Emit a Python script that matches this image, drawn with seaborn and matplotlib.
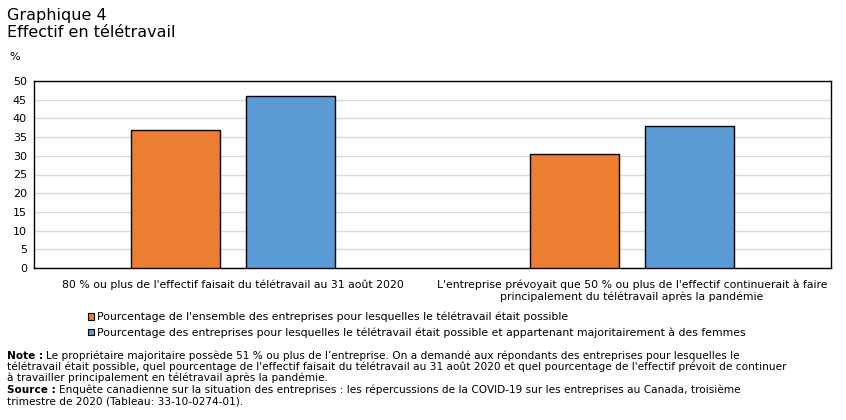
import matplotlib
matplotlib.use("Agg")
import matplotlib.pyplot as plt
import seaborn as sns
import pandas as pd
from matplotlib.patches import Patch

categories = [
    "80 % ou plus de l'effectif faisait du télétravail au 31 août 2020",
    "L'entreprise prévoyait que 50 % ou plus de l'effectif continuerait à faire\nprincipalement du télétravail après la pandémie",
]
series_names = [
    "Pourcentage de l'ensemble des entreprises pour lesquelles le télétravail était possible",
    "Pourcentage des entreprises pour lesquelles le télétravail était possible et appartenant majoritairement à des femmes",
]
values_all = [36.9, 30.4]
values_women = [46.0, 37.9]
y_ticks = [0, 5, 10, 15, 20, 25, 30, 35, 40, 45, 50]
colors = ["#ED7D31", "#5B9BD5"]

df = pd.DataFrame({
    "cat": categories * 2,
    "serie": [series_names[0]] * 2 + [series_names[1]] * 2,
    "val": values_all + values_women,
})

sns.set_theme(style="white")
plt.rcParams["font.family"] = ["DejaVu Sans"]
plt.rcParams["text.color"] = "black"

W, H = 846, 420
fig = plt.figure(figsize=(W / 100, H / 100), dpi=100)
ax = fig.add_axes([34 / W, 1 - 268 / H, (831 - 34) / W, (268 - 81) / H])

sns.barplot(data=df, x="cat", y="val", hue="serie", palette=colors, saturation=1,
            width=0.575, gap=0.223, edgecolor="black", linewidth=1,
            ax=ax, legend=False, zorder=3)

ax.set_xlim(-0.5, 1.5)
ax.set_ylim(0, 50)
ax.set_yticks(y_ticks)
ax.set_yticklabels([str(t) for t in y_ticks], fontsize=8)
ax.yaxis.grid(True, color="#D9D9D9", linewidth=1, zorder=0)
ax.set_axisbelow(True)
ax.set_xlabel("")
ax.set_ylabel("")
ax.tick_params(axis="y", length=0, pad=5, colors="black")
ax.tick_params(axis="x", length=0, pad=8, colors="black")
ax.set_xticks([0, 1])
ax.set_xticklabels(categories, fontsize=7.8, linespacing=1.2)
for s in ax.spines.values():
    s.set_color("black")
    s.set_linewidth(1)

fig.text(7 / W, 1 - 20 / H, "Graphique 4", fontsize=11.5, va="baseline")
fig.text(7 / W, 1 - 37 / H, "Effectif en télétravail", fontsize=11.5, va="baseline")
fig.text(9 / W, 1 - 60 / H, "%", fontsize=8, va="baseline")

handles = [Patch(facecolor=c, edgecolor="black", linewidth=0.8) for c in colors]
fig.legend(handles, series_names, loc="upper left", bbox_to_anchor=(88 / W, 1 - 312 / H),
           frameon=False, fontsize=7.85, handlelength=0.55, handleheight=0.55,
           handletextpad=0.25, labelspacing=0.45, borderaxespad=0, borderpad=0)

fig.canvas.draw()
renderer = fig.canvas.get_renderer()

NOTE_FS = 7.6

def mixed(y, bold, rest):
    x0 = 7 / W
    if bold:
        t = fig.text(x0, 1 - y / H, bold, fontsize=NOTE_FS, fontweight="bold", va="baseline")
        bb = t.get_window_extent(renderer)
        x0 = (bb.x1 + 3) / W
    fig.text(x0, 1 - y / H, rest, fontsize=NOTE_FS, va="baseline")

mixed(359, "Note :", "Le propriétaire majoritaire possède 51 % ou plus de l\u2019entreprise. On a demandé aux répondants des entreprises pour lesquelles le")
mixed(370, None, "télétravail était possible, quel pourcentage de l'effectif faisait du télétravail au 31 août 2020 et quel pourcentage de l'effectif prévoit de continuer")
mixed(381, None, "à travailler principalement en télétravail après la pandémie.")
mixed(393, "Source :", "Enquête canadienne sur la situation des entreprises : les répercussions de la COVID-19 sur les entreprises au Canada, troisième")
mixed(404, None, "trimestre de 2020 (Tableau: 33-10-0274-01).")

fig.savefig("out.png", dpi=100)
